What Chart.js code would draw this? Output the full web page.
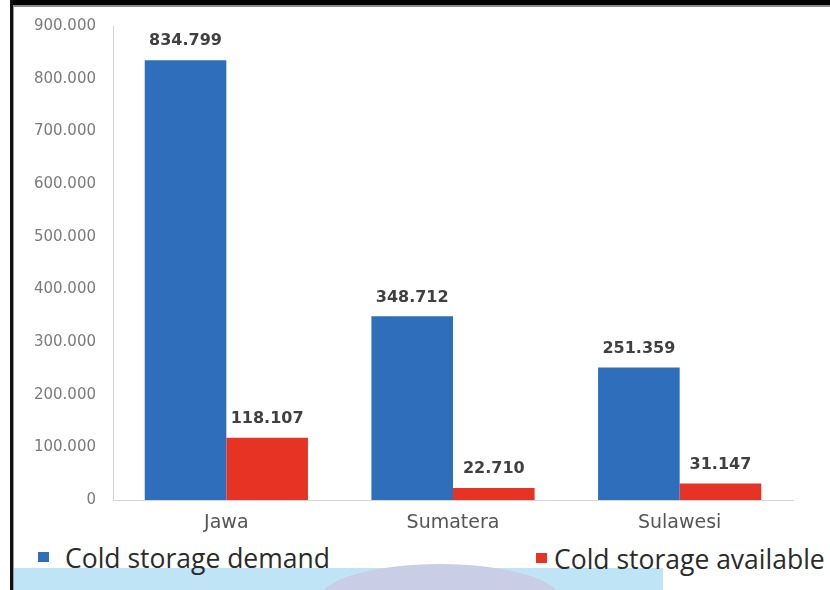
<!DOCTYPE html>
<html lang="id">
<head>
    <meta charset="UTF-8">
    <title>Cold storage</title>
    <script src="https://cdn.jsdelivr.net/npm/chart.js"></script>
    <style>
        body {
            margin: 0;
            background: #ffffff;
            font-family: "DejaVu Sans", sans-serif;
        }

        #page {
            position: relative;
            width: 830px;
            height: 590px;
            overflow: hidden;
        }

        #chartBox {
            position: absolute;
            left: 0;
            top: 0;
            width: 830px;
            height: 540px;
        }

        .frame { position: absolute; }

        .legend-item {
            position: absolute;
            font-family: "Open Sans", sans-serif;
            font-size: 26.5px;
            color: #2b2b2b;
            line-height: 1;
            white-space: nowrap;
            z-index: 3;
        }

        .legend-box {
            position: absolute;
            width: 11px;
            height: 10px;
            z-index: 3;
        }
    </style>
</head>

<body>
    <div id="page">
        <!-- bande bleu clair en bas -->
        <div class="frame" style="left:13px;top:568px;width:650px;height:22px;background:#bfe4f5;z-index:1"></div>
        <div class="frame" style="left:320px;top:564px;width:240px;height:70px;border-radius:50%;background:#c9cde6;z-index:1"></div>

        <div id="chartBox"><canvas id="myChart"></canvas></div>

        <!-- legende -->
        <div class="legend-box" style="left:38px;top:552px;background:#2F6EBA"></div>
        <div class="legend-item" style="left:65px;top:545px">Cold storage demand</div>
        <div class="legend-box" style="left:536px;top:553px;background:#E63324"></div>
        <div class="legend-item" style="left:554px;top:546px">Cold storage available</div>

        <!-- cadre -->
        <div class="frame" style="left:10px;top:0;width:820px;height:5px;background:#000;z-index:4"></div>
        <div class="frame" style="left:13px;top:5px;width:817px;height:2px;background:#8a8a8a;z-index:4"></div>
        <div class="frame" style="left:10px;top:0;width:3px;height:590px;background:#111;z-index:4"></div>
        <div class="frame" style="left:13px;top:5px;width:1px;height:585px;background:#9a9a9a;z-index:4"></div>
    </div>

    <script>
        const regions = ['Jawa', 'Sumatera', 'Sulawesi'];
        const demand = [834799, 348712, 251359];
        const available = [118107, 22710, 31147];
        const yTicks = [0, 100000, 200000, 300000, 400000, 500000, 600000, 700000, 800000, 900000];

        const fmt = v => v === 0 ? '0' : v.toLocaleString('de-DE');

        // Label di atas setiap batang
        const valueLabels = {
            id: 'valueLabels',
            afterDatasetsDraw(chart) {
                const ctx = chart.ctx;
                ctx.save();
                ctx.font = 'bold 16px "DejaVu Sans"';
                ctx.fillStyle = '#404040';
                ctx.textAlign = 'center';
                ctx.textBaseline = 'middle';
                chart.data.datasets.forEach((ds, i) => {
                    chart.getDatasetMeta(i).data.forEach((bar, j) => {
                        ctx.fillText(fmt(ds.data[j]), bar.x, bar.y - 19);
                    });
                });
                ctx.restore();
            }
        };

        const ctx = document.getElementById('myChart').getContext('2d');
        const myChart = new Chart(ctx, {
            type: 'bar',
            data: {
                labels: regions,
                datasets: [{
                    label: 'Cold storage demand',
                    data: demand,
                    backgroundColor: '#2F6EBA'
                }, {
                    label: 'Cold storage available',
                    data: available,
                    backgroundColor: '#E63324'
                }]
            },
            options: {
                responsive: true,
                maintainAspectRatio: false,
                animation: false,
                barPercentage: 1,
                categoryPercentage: 0.72,
                layout: { padding: { left: 0, right: 37, top: 25, bottom: 0 } },
                plugins: {
                    legend: { display: false },
                    tooltip: { enabled: false }
                },
                scales: {
                    x: {
                        grid: { display: false, drawTicks: false },
                        border: { display: true, color: '#d6d6d6', width: 1 },
                        ticks: {
                            padding: 12,
                            color: '#555555',
                            font: { family: 'DejaVu Sans', size: 19 }
                        },
                        afterFit(scale) { scale.height = 40; }
                    },
                    y: {
                        min: 0,
                        max: 900000,
                        afterBuildTicks(scale) {
                            scale.ticks = yTicks.map(v => ({ value: v }));
                        },
                        grid: { display: false, drawTicks: false },
                        border: { display: true, color: '#d6d6d6', width: 1 },
                        ticks: {
                            padding: 17,
                            color: '#7a7a7a',
                            font: { family: 'DejaVu Sans', size: 15 },
                            callback: v => fmt(v)
                        },
                        afterFit(scale) { scale.width = 113; }
                    }
                }
            },
            plugins: [valueLabels]
        });
    </script>
</body>

</html>
